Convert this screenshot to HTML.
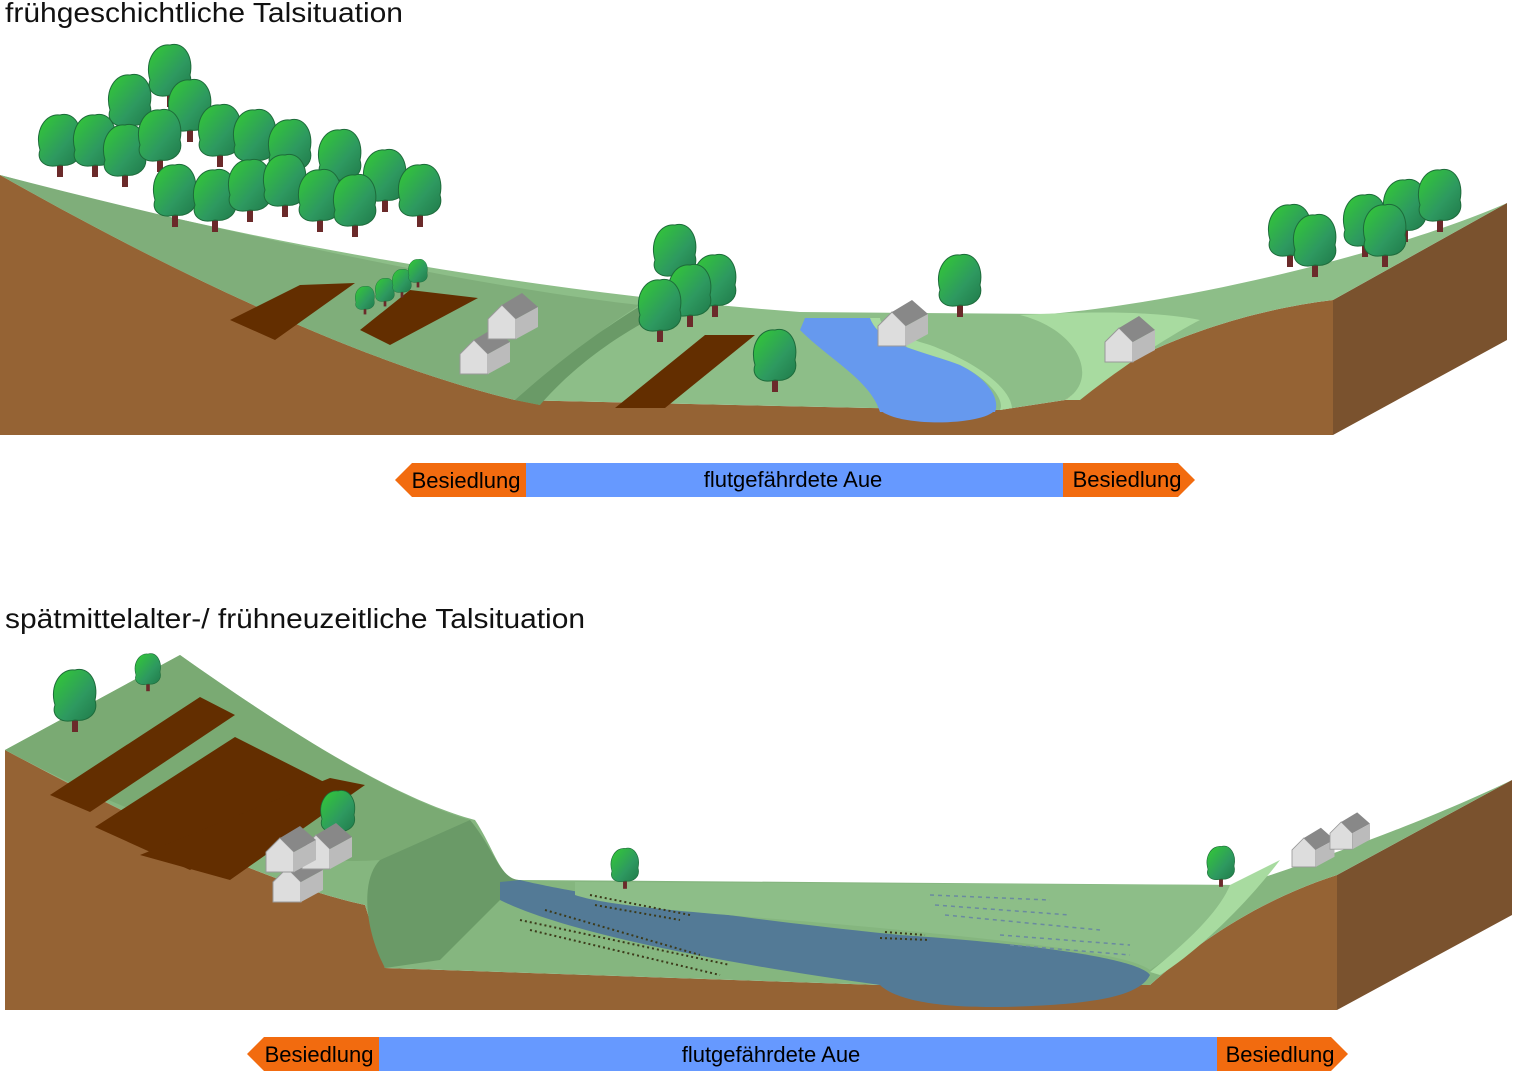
<!DOCTYPE html>
<html><head><meta charset="utf-8"><style>
body{margin:0;background:#fff;width:1513px;height:1074px;overflow:hidden}
svg{display:block}
text{font-family:"Liberation Sans",Arial,sans-serif}
</style></head><body>
<svg width="1513" height="1074" viewBox="0 0 1513 1074" xmlns="http://www.w3.org/2000/svg">
<defs>
<linearGradient id="tg" x1="0" y1="0" x2="1" y2="1"><stop offset="0" stop-color="#33cc33"/><stop offset="0.6" stop-color="#2e9960"/><stop offset="1" stop-color="#207a4a"/></linearGradient>
<g id="tree"><rect x="-3" y="10" width="6" height="22" fill="#6b2a2a"/><path d="M-20,5 C-26,-15 -14,-32 0,-30 C14,-34 24,-18 20,0 C24,14 12,22 0,20 C-14,24 -24,16 -20,5Z" fill="url(#tg)" stroke="#1d6b3a" stroke-width="1"/></g>
<g id="house"><polygon points="0,14 14,0 28,14 28,34 0,34" fill="#ddd" stroke="#999"/><polygon points="14,0 34,-12 50,2 28,14" fill="#888"/><polygon points="28,14 50,2 50,22 28,34" fill="#bbb"/></g>
</defs>

<text x="5" y="22" font-size="28" fill="#111" textLength="398" lengthAdjust="spacingAndGlyphs">frühgeschichtliche Talsituation</text>

<path d="M0,175 C150,260 350,360 515,400 L870,408 L1000,410 L1065,400 C1150,340 1250,310 1333,300 L1333,435 L0,435 Z" fill="#956334"/>
<path d="M1333,300 L1507,203 L1507,340 L1333,435 Z" fill="#7a522e"/>
<path d="M0,175 C200,230 500,290 800,312 L1050,314 C1200,300 1400,250 1507,203 L1333,300 C1250,310 1150,340 1065,400 L1000,410 L870,408 L515,400 C350,360 150,260 0,175 Z" fill="#8dbe88"/>
<path d="M0,175 C150,260 350,360 515,400 L540,405 C560,360 600,330 640,305 C500,290 250,240 0,175Z" fill="#7fae7a"/>
<path d="M515,400 C560,360 600,330 650,300 L680,305 C620,330 570,370 540,405Z" fill="#6a9a67"/>
<path d="M1020,315 C1080,330 1100,380 1065,400 L1080,400 C1130,360 1180,330 1200,320 C1150,310 1080,312 1020,315Z" fill="#a8dba0"/>
<path d="M805,318 L870,318 C880,345 920,350 960,365 C990,380 1000,400 995,412 L880,412 C870,380 830,360 800,330Z" fill="#6699ee"/>
<path d="M880,410 L995,410 C985,425 900,428 880,410Z" fill="#6699ee"/>
<path d="M870,318 C880,345 920,350 960,365 C990,380 1005,400 1000,410 L1012,408 C1010,385 970,360 930,345 C895,335 880,325 880,318Z" fill="#a8dba0"/>
<polygon points="230,320 300,285 355,283 275,340" fill="#632e00"/>
<polygon points="360,330 410,290 478,298 390,345" fill="#632e00"/>
<polygon points="615,408 705,335 755,335 665,408" fill="#632e00"/>

<g>
<use href="#tree" x="170" y="75"/><use href="#tree" x="130" y="105"/><use href="#tree" x="190" y="110"/>
<use href="#tree" x="60" y="145"/><use href="#tree" x="95" y="145"/><use href="#tree" x="125" y="155"/>
<use href="#tree" x="160" y="140"/><use href="#tree" x="220" y="135"/><use href="#tree" x="255" y="140"/>
<use href="#tree" x="290" y="150"/><use href="#tree" x="340" y="160"/><use href="#tree" x="385" y="180"/>
<use href="#tree" x="420" y="195"/><use href="#tree" x="175" y="195"/><use href="#tree" x="215" y="200"/>
<use href="#tree" x="250" y="190"/><use href="#tree" x="285" y="185"/><use href="#tree" x="320" y="200"/><use href="#tree" x="355" y="205"/>
<use href="#tree" x="675" y="255"/><use href="#tree" x="715" y="285"/><use href="#tree" x="690" y="295"/>
<use href="#tree" x="660" y="310"/><use href="#tree" x="775" y="360"/><use href="#tree" x="960" y="285"/>
<use href="#tree" x="1290" y="235"/><use href="#tree" x="1315" y="245"/><use href="#tree" x="1365" y="225"/>
<use href="#tree" x="1405" y="210"/><use href="#tree" x="1440" y="200"/><use href="#tree" x="1385" y="235"/>
<g transform="translate(365,300) scale(0.45)"><use href="#tree"/></g>
<g transform="translate(385,292) scale(0.45)"><use href="#tree"/></g>
<g transform="translate(402,283) scale(0.45)"><use href="#tree"/></g>
<g transform="translate(418,273) scale(0.45)"><use href="#tree"/></g>
</g>
<use href="#house" x="460" y="340"/><use href="#house" x="488" y="305"/>
<use href="#house" x="878" y="312"/>
<use href="#house" x="1105" y="328"/>

<polygon points="395,480 412,463 526,463 526,497 412,497" fill="#f26b0f"/>
<rect x="526" y="463" width="537" height="34" fill="#6699ff"/>
<polygon points="1063,463 1178,463 1195,480 1178,497 1063,497" fill="#f26b0f"/>
<text x="466" y="488" font-size="22" text-anchor="middle">Besiedlung</text>
<text x="793" y="487" font-size="22" text-anchor="middle">flutgefährdete Aue</text>
<text x="1127" y="487" font-size="22" text-anchor="middle">Besiedlung</text>

<text x="5" y="628" font-size="28" fill="#111" textLength="580" lengthAdjust="spacingAndGlyphs">spätmittelalter-/ frühneuzeitliche Talsituation</text>

<path d="M5,750 C100,800 250,880 365,905 L385,968 L880,985 L1150,985 C1200,940 1260,900 1337,875 L1337,1010 L5,1010 Z" fill="#956334"/>
<path d="M1337,875 L1512,780 L1512,915 L1337,1010 Z" fill="#7a522e"/>
<path d="M5,750 L180,655 C300,740 400,800 475,820 C495,850 500,880 520,880 L1240,885 C1350,850 1450,810 1512,780 L1337,875 C1260,900 1200,940 1150,985 L880,985 L385,968 L365,905 C250,880 100,800 5,750Z" fill="#85b67f"/>
<path d="M5,750 L180,655 C300,740 400,800 470,820 L380,860 C250,870 100,800 5,750Z" fill="#7aaa73"/>
<path d="M470,820 C495,850 500,880 520,880 L440,960 L385,968 C365,930 360,880 380,860Z" fill="#6a9a67"/>
<path d="M500,882 L520,880 C560,890 700,915 900,935 C1050,945 1140,960 1150,975 C1140,995 1100,1005 1000,1007 C920,1008 890,995 880,985 C700,960 560,930 500,900Z" fill="#537a96"/>
<path d="M575,882 L1230,885 C1220,920 1180,950 1150,970 C1130,955 1050,945 900,930 C750,915 620,910 575,895Z" fill="#8dbe88"/>
<path d="M1230,885 L1280,860 C1250,900 1200,950 1160,975 L1150,972 C1190,940 1220,910 1230,885Z" fill="#a8dba0"/>
<polygon points="50,795 200,697 235,715 90,812" fill="#632e00"/>
<polygon points="95,827 235,737 330,785 190,870" fill="#632e00"/>
<polygon points="140,855 330,778 365,785 230,880" fill="#632e00"/>
<g fill="none" stroke="#3c3a1a" stroke-width="2" stroke-dasharray="2 3">
<path d="M520,920 L730,965 M530,930 L720,975 M545,910 L700,955 M590,895 L690,915 M595,905 L680,920 M880,938 L930,940 M885,932 L925,935"/>
</g>
<g fill="none" stroke="#6a8aa0" stroke-width="1.5" stroke-dasharray="4 4">
<path d="M930,895 L1050,900 M935,905 L1070,915 M945,915 L1100,930 M1000,935 L1130,945 M1010,945 L1130,955"/>
</g>
<use href="#tree" x="75" y="700"/><g transform="translate(148,672) scale(0.6)"><use href="#tree"/></g>
<g transform="translate(338,815) scale(0.8)"><use href="#tree"/></g>
<g transform="translate(625,868) scale(0.65)"><use href="#tree"/></g>
<g transform="translate(1221,866) scale(0.65)"><use href="#tree"/></g>
<use href="#house" x="273" y="868"/><use href="#house" x="302" y="835"/><use href="#house" x="266" y="838"/>
<g transform="translate(1292,838) scale(0.85)"><use href="#house"/></g>
<g transform="translate(1330,822) scale(0.8)"><use href="#house"/></g>

<polygon points="247,1054 264,1037 379,1037 379,1071 264,1071" fill="#f26b0f"/>
<rect x="379" y="1037" width="838" height="34" fill="#6699ff"/>
<polygon points="1217,1037 1331,1037 1348,1054 1331,1071 1217,1071" fill="#f26b0f"/>
<text x="319" y="1062" font-size="22" text-anchor="middle">Besiedlung</text>
<text x="771" y="1062" font-size="22" text-anchor="middle">flutgefährdete Aue</text>
<text x="1280" y="1062" font-size="22" text-anchor="middle">Besiedlung</text>
</svg>
</body></html>
